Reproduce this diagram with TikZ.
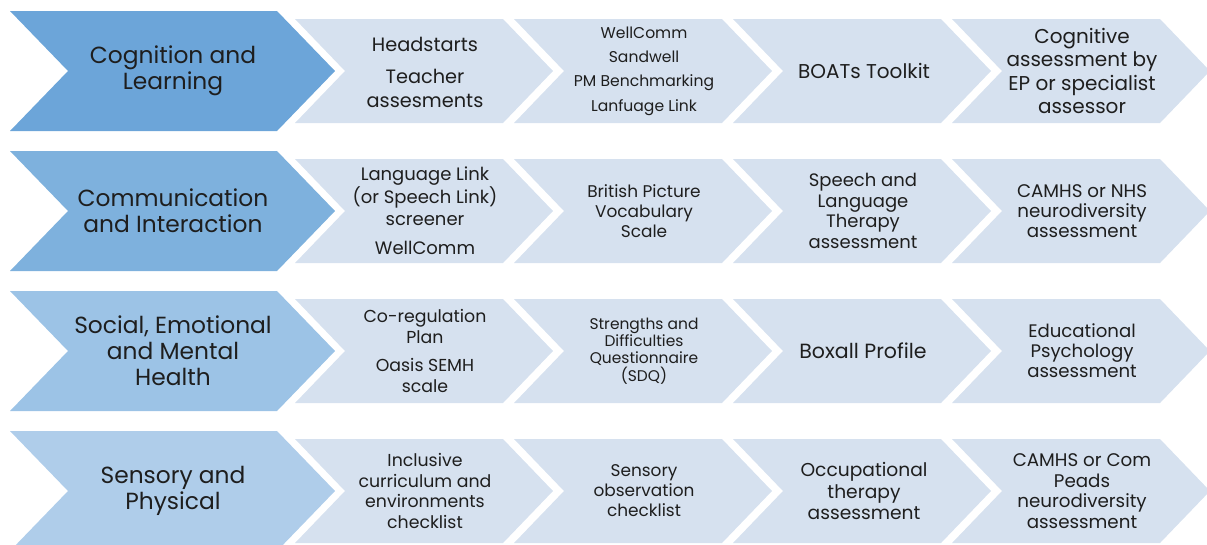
\documentclass[tikz,border=0pt]{standalone}
\usepackage{fontspec}
\setmainfont{Poppins}
\definecolor{rowone}{RGB}{108,165,217}
\definecolor{rowtwo}{RGB}{126,177,221}
\definecolor{rowthree}{RGB}{156,195,230}
\definecolor{rowfour}{RGB}{175,205,234}
\definecolor{steplight}{RGB}{214,225,239}
\definecolor{txtdark}{RGB}{30,30,30}
\tikzset{
  lbl/.style={align=center,text=txtdark,inner sep=0pt},
  biglbl/.style={lbl,font=\fontsize{17.5}{19.5}\selectfont}
}

\begin{document}
\begin{tikzpicture}[line join=miter,x=0.75pt,y=-0.75pt]
\useasboundingbox (0,0) rectangle (1207,544);
\clip (0,0) rectangle (1207,544);
% area chevrons
\fill [rowone] (10,11)--(277,11)--(335,71)--(277,131)--(10,131)--(68,71)--cycle;
\fill [rowtwo] (10,151)--(277,151)--(335,211)--(277,271)--(10,271)--(68,211)--cycle;
\fill [rowthree] (10,291)--(277,291)--(335,351)--(277,411)--(10,411)--(68,351)--cycle;
\fill [rowfour] (10,431)--(277,431)--(335,491)--(277,551)--(10,551)--(68,491)--cycle;
% step chevrons, row 1
\fill [steplight] (295,19)--(503,19)--(553,71)--(503,123)--(295,123)--(345,71)--cycle;
\fill [steplight] (514,19)--(722,19)--(772,71)--(722,123)--(514,123)--(564,71)--cycle;
\fill [steplight] (733,19)--(941,19)--(991,71)--(941,123)--(733,123)--(783,71)--cycle;
\fill [steplight] (952,19)--(1160,19)--(1210,71)--(1160,123)--(952,123)--(1002,71)--cycle;
% row 2
\fill [steplight] (295,159)--(503,159)--(553,211)--(503,263)--(295,263)--(345,211)--cycle;
\fill [steplight] (514,159)--(722,159)--(772,211)--(722,263)--(514,263)--(564,211)--cycle;
\fill [steplight] (733,159)--(941,159)--(991,211)--(941,263)--(733,263)--(783,211)--cycle;
\fill [steplight] (952,159)--(1160,159)--(1210,211)--(1160,263)--(952,263)--(1002,211)--cycle;
% row 3
\fill [steplight] (295,299)--(503,299)--(553,351)--(503,403)--(295,403)--(345,351)--cycle;
\fill [steplight] (514,299)--(722,299)--(772,351)--(722,403)--(514,403)--(564,351)--cycle;
\fill [steplight] (733,299)--(941,299)--(991,351)--(941,403)--(733,403)--(783,351)--cycle;
\fill [steplight] (952,299)--(1160,299)--(1210,351)--(1160,403)--(952,403)--(1002,351)--cycle;
% row 4
\fill [steplight] (295,439)--(503,439)--(553,491)--(503,543)--(295,543)--(345,491)--cycle;
\fill [steplight] (514,439)--(722,439)--(772,491)--(722,543)--(514,543)--(564,491)--cycle;
\fill [steplight] (733,439)--(941,439)--(991,491)--(941,543)--(733,543)--(783,491)--cycle;
\fill [steplight] (952,439)--(1160,439)--(1210,491)--(1160,543)--(952,543)--(1002,491)--cycle;
% labels
\node[biglbl] (cogn) at (173,71) {Cognition and\\Learning};
\node[lbl,font=\fontsize{14.5}{17.5}\selectfont] (cognA) at (425,72) {Headstarts\\[7pt]Teacher\\assesments};
\node[lbl,font=\fontsize{11.7}{18.2}\selectfont] (cognB) at (644,71) {WellComm\\Sandwell\\PM Benchmarking\\Lanfuage Link};
\node[lbl,font=\fontsize{15}{18}\selectfont] (cognC) at (864,71) {BOATs Toolkit};
\node[lbl,font=\fontsize{15}{17.5}\selectfont] (cognD) at (1082,71) {Cognitive\\assessment by\\EP or specialist\\assessor};
\node[biglbl] (comm) at (173,211) {Communication\\and Interaction};
\node[lbl,font=\fontsize{13.5}{16}\selectfont] (commA) at (425,211) {Language Link\\(or Speech Link)\\screener\\[6pt]WellComm};
\node[lbl,font=\fontsize{12.7}{15}\selectfont] (commB) at (644,211) {British Picture\\Vocabulary\\Scale};
\node[lbl,font=\fontsize{13.5}{15.5}\selectfont] (commC) at (863,211) {Speech and\\Language\\Therapy\\assessment};
\node[lbl,font=\fontsize{13.7}{15}\selectfont] (commD) at (1082,211) {CAMHS or NHS\\neurodiversity\\assessment};
\node[biglbl] (semh) at (173,351) {Social, Emotional\\and Mental\\Health};
\node[lbl,font=\fontsize{13}{16}\selectfont] (semhA) at (425,351) {Co-regulation\\Plan\\[5pt]Oasis SEMH\\scale};
\node[lbl,font=\fontsize{11.6}{13}\selectfont] (semhB) at (644,351) {Strengths and\\Difficulties\\Questionnaire\\(SDQ)};
\node[lbl,font=\fontsize{15.4}{17}\selectfont] (semhC) at (863,351) {Boxall Profile};
\node[lbl,font=\fontsize{13.6}{15}\selectfont] (semhD) at (1082,351) {Educational\\Psychology\\assessment};
\node[biglbl] (sens) at (173,491) {Sensory and\\Physical};
\node[lbl,font=\fontsize{13}{15.5}\selectfont] (sensA) at (425,491) {Inclusive\\curriculum and\\environments\\checklist};
\node[lbl,font=\fontsize{12.7}{15}\selectfont] (sensB) at (644,491) {Sensory\\observation\\checklist};
\node[lbl,font=\fontsize{14}{16}\selectfont] (sensC) at (864,491) {Occupational\\therapy\\assessment};
\node[lbl,font=\fontsize{13.7}{15.5}\selectfont] (sensD) at (1082,491) {CAMHS or Com\\Peads\\neurodiversity\\assessment};
\end{tikzpicture}
\end{document}
